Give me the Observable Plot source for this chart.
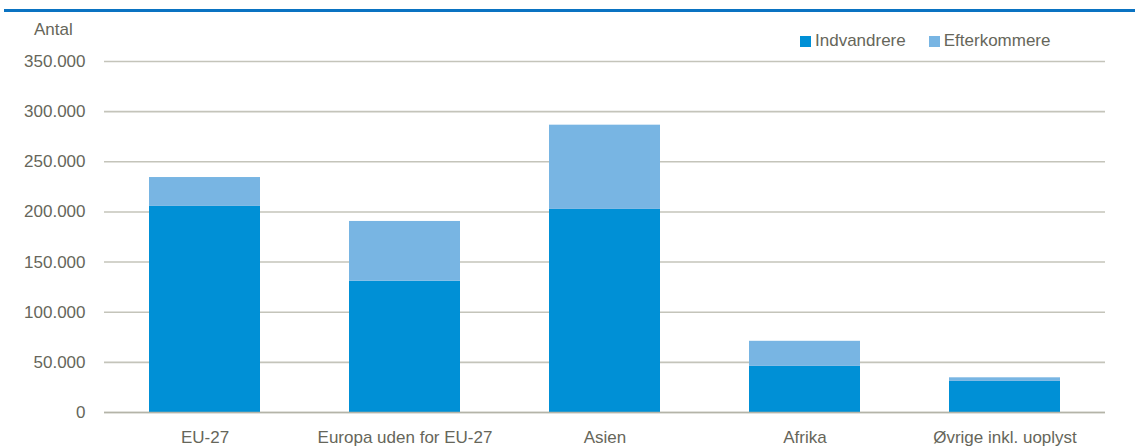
<!DOCTYPE html>
<html>
<head>
<meta charset="utf-8">
<script src="https://cdn.jsdelivr.net/npm/d3@7"></script>
<script src="https://cdn.jsdelivr.net/npm/@observablehq/plot@0.6"></script>
<style>
  html, body { margin: 0; padding: 0; background: #fff; }
  #wrap { position: relative; width: 1135px; height: 448px; font-family: "Liberation Sans", Arial, sans-serif; color: #66665a; }
  #topline { position: absolute; left: 4px; right: 0; top: 9px; height: 2.5px; background: #0a73c2; }
  #unit { position: absolute; left: 34px; top: 20px; font-size: 17px; }
  #legend { position: absolute; left: 800px; top: 31px; font-size: 17px; display: flex; align-items: center; white-space: nowrap; }
  .sw { display: inline-block; width: 11px; height: 11px; margin-right: 4px; }
  .item { display: flex; align-items: center; margin-right: 23px; }
  #chart { position: absolute; left: 0; top: 0; }
</style>
</head>
<body>
<div id="wrap">
  <div id="topline"></div>
  <div id="unit">Antal</div>
  <div id="legend"></div>
  <div id="chart"></div>
</div>
<script>
const categories = ["EU-27", "Europa uden for EU-27", "Asien", "Afrika", "Øvrige inkl. uoplyst"];
const seriesNames = ["Indvandrere", "Efterkommere"];
const indvandrere = [205500, 131000, 202500, 46000, 31000];
const efterkommere = [28800, 59500, 84000, 25000, 3600];
const yTicks = [0, 50000, 100000, 150000, 200000, 250000, 300000, 350000];
const colors = ["#0090d6", "#78b5e3"];

const rows = [];
categories.forEach((c, i) => {
  rows.push({cat: c, type: seriesNames[0], value: indvandrere[i]});
  rows.push({cat: c, type: seriesNames[1], value: efterkommere[i]});
});

const fmt = d => d3.format(",")(d).replace(/,/g, ".");

const chart = Plot.plot({
  width: 1135,
  height: 448,
  marginTop: 61,
  marginBottom: 36,
  marginLeft: 104,
  marginRight: 30,
  style: {fontFamily: '"Liberation Sans", Arial, sans-serif', fontSize: "17px", color: "#66665a", background: "transparent"},
  x: {domain: categories, paddingInner: 0.445, paddingOuter: 0.2225, label: null, tickSize: 0, tickPadding: 18},
  y: {domain: [0, 350000], ticks: yTicks, tickFormat: fmt, label: null, tickSize: 0, tickPadding: 19},
  color: {domain: seriesNames, range: colors},
  marks: [
    Plot.gridY(yTicks, {stroke: "#c4c4ba", strokeOpacity: 1, strokeWidth: 1.6}),
    Plot.barY(rows, {x: "cat", y: "value", fill: "type", order: seriesNames}),
    Plot.ruleY([0], {stroke: "#b4b4a8", strokeWidth: 1.6})
  ]
});
document.getElementById("chart").appendChild(chart);

const legend = document.getElementById("legend");
seriesNames.forEach((s, i) => {
  const it = document.createElement("div");
  it.className = "item";
  it.innerHTML = `<span class="sw" style="background:${colors[i]}"></span><span>${s}</span>`;
  legend.appendChild(it);
});
</script>
</body>
</html>
